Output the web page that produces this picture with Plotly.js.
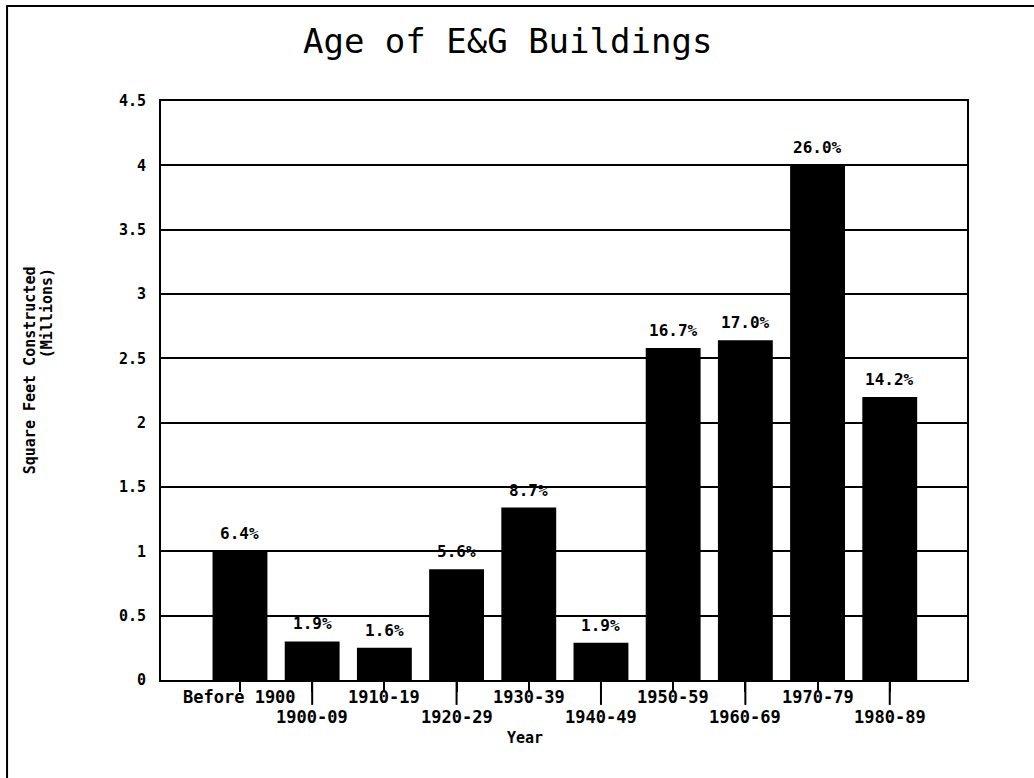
<!DOCTYPE html>
<html>
<head>
<meta charset="utf-8">
<script src="https://cdn.plot.ly/plotly-3.0.1.min.js"></script>
<style>html,body{margin:0;padding:0;background:#fff;}#chart{width:1034px;height:778px;}</style>
</head>
<body>
<div id="chart"></div>
<script>
var categories = ["Before 1900","1900-09","1910-19","1920-29","1930-39","1940-49","1950-59","1960-69","1970-79","1980-89"];
var sqftMillions = [1.0, 0.30, 0.25, 0.86, 1.34, 0.29, 2.58, 2.64, 4.0, 2.20];
var percentLabels = ["6.4%","1.9%","1.6%","5.6%","8.7%","1.9%","16.7%","17.0%","26.0%","14.2%"];
var yTickValues = [0, 0.5, 1, 1.5, 2, 2.5, 3, 3.5, 4, 4.5];

var MONO = "DejaVu Sans Mono, monospace";
var idx = categories.map(function(_, i){ return i; });

var trace = {
  type: "bar",
  x: idx,
  y: sqftMillions,
  width: 0.76,
  marker: {color: "#000", line: {width: 0}},
  hoverinfo: "skip"
};

var annotations = [];
// percent labels above bars
idx.forEach(function(i){
  annotations.push({
    x: i, y: sqftMillions[i], xref: "x", yref: "y",
    text: percentLabels[i], showarrow: false,
    yanchor: "bottom", yshift: 6,
    font: {family: MONO, size: 16, color: "#000", weight: "bold"}
  });
});
// staggered category labels
idx.forEach(function(i){
  annotations.push({
    x: i, y: 0, xref: "x", yref: "paper",
    text: categories[i], showarrow: false,
    yanchor: "middle", yshift: (i % 2 === 0) ? -17 : -37,
    font: {family: MONO, size: 17, color: "#000", weight: "bold"}
  });
});
// axis titles
annotations.push({
  x: 0.452, y: -0.100, xref: "paper", yref: "paper",
  text: "Year", showarrow: false, xanchor: "center", yanchor: "middle",
  font: {family: MONO, size: 15, color: "#000", weight: "bold"}
});
annotations.push({
  x: -0.1625, y: 0.535, xref: "paper", yref: "paper",
  text: "Square Feet Constructed", showarrow: false, textangle: -90,
  xanchor: "center", yanchor: "middle",
  font: {family: MONO, size: 15, color: "#000", weight: "bold"}
});
annotations.push({
  x: -0.141, y: 0.634, xref: "paper", yref: "paper",
  text: "(Millions)", showarrow: false, textangle: -90,
  xanchor: "center", yanchor: "middle",
  font: {family: MONO, size: 15, color: "#000", weight: "bold"}
});

var shapes = [];
// long ticks for staggered (odd) labels
idx.forEach(function(i){
  if (i % 2 === 1) {
    shapes.push({type: "line", xref: "x", yref: "paper", x0: i, x1: i, y0: 0, y1: -0.043,
      line: {color: "#000", width: 2}});
  }
});
// outer frame
shapes.push({type: "rect", xref: "paper", yref: "paper", x0: -0.191, x1: 1.2, y0: -0.3, y1: 1.164,
  line: {color: "#000", width: 2}, fillcolor: "rgba(0,0,0,0)", layer: "above"});

var layout = {
  width: 1034, height: 778,
  margin: {l: 161, r: 67, t: 101, b: 98},
  paper_bgcolor: "#fff", plot_bgcolor: "#fff",
  showlegend: false,
  title: {
    text: "Age of E&G Buildings",
    xref: "container", yref: "container", x: 0.491, y: 0.947,
    xanchor: "center", yanchor: "middle",
    font: {family: MONO, size: 34, color: "#000"}
  },
  xaxis: {
    type: "linear", range: [-1.094, 10.07],
    tickvals: idx, showticklabels: false,
    ticks: "outside", ticklen: 10, tickwidth: 2, tickcolor: "#000",
    showgrid: false, zeroline: false,
    showline: true, linecolor: "#000", linewidth: 2, mirror: true
  },
  yaxis: {
    range: [0, 4.5], tickvals: yTickValues,
    ticks: "", ticklabelstandoff: 10,
    tickfont: {family: MONO, size: 15, color: "#000", weight: "bold"},
    showgrid: true, gridcolor: "#000", gridwidth: 2,
    zeroline: false,
    showline: true, linecolor: "#000", linewidth: 2, mirror: true
  },
  annotations: annotations,
  shapes: shapes
};

Plotly.newPlot("chart", [trace], layout, {displayModeBar: false, staticPlot: true});
</script>
</body>
</html>
